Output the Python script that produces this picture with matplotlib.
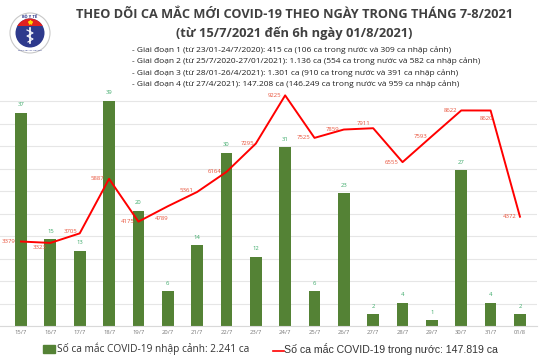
import matplotlib
matplotlib.use("Agg")
import matplotlib.pyplot as plt
from matplotlib.patches import Circle, Rectangle, Polygon
import numpy as np

dates = ["15/7", "16/7", "17/7", "18/7", "19/7", "20/7", "21/7", "22/7", "23/7",
         "24/7", "25/7", "26/7", "27/7", "28/7", "29/7", "30/7", "31/7", "01/8"]
imported = [37, 15, 13, 39, 20, 6, 14, 30, 12, 31, 6, 23, 2, 4, 1, 27, 4, 2]
domestic = [3379, 3323, 3705, 5887, 4175, 4789, 5361, 6164, 7295, 9225, 7525,
            7859, 7911, 6555, 7593, 8622, 8620, 4372]

title = "THEO DÕI CA MẮC MỚI COVID-19 THEO NGÀY TRONG THÁNG 7-8/2021"
subtitle = "(từ 15/7/2021 đến 6h ngày 01/8/2021)"
notes = [
    "- Giai đoạn 1 (từ 23/01-24/7/2020): 415 ca (106 ca trong nước và 309 ca nhập cảnh)",
    "- Giai đoạn 2 (từ 25/7/2020-27/01/2021): 1.136 ca (554 ca trong nước và 582 ca nhập cảnh)",
    "- Giai đoạn 3 (từ 28/01-26/4/2021): 1.301 ca (910 ca trong nước và 391 ca nhập cảnh)",
    "- Giai đoạn 4 (từ 27/4/2021): 147.208 ca (146.249 ca trong nước và 959 ca nhập cảnh)",
]
legend_bar = "Số ca mắc COVID-19 nhập cảnh: 2.241 ca"
legend_line = "Số ca mắc COVID-19 trong nước: 147.819 ca"

# label offsets (pixels, dx right, dy up) for line labels
line_off = [(-12, 0), (-11, -5), (-9, 2), (-12, 0), (-11, 0), (-6, -12), (-11, 1),
            (-12, 0), (-8, 0), (-11, 0), (-11, 0), (-11, 0), (-10, 5), (-11, 0),
            (-11, 0), (-11, 0), (-4, -8), (-10, 0)]

W, H = 540, 360
fig = plt.figure(figsize=(5.4, 3.6), dpi=100)
fig.patch.set_facecolor("white")

BAR_C = "#548235"
LINE_C = "#ff0000"
BAR_LBL = "#3daa6a"
LINE_LBL = "#e8523a"

x = np.arange(len(dates))
pos = [0.0, 1 - 326 / H, 537 / W, (326 - 88) / H]

# grid axis (domestic scale) behind
ax2 = fig.add_axes(pos, zorder=1)
ax2.set_xlim((0 - 21) / 29.35, (537 - 21) / 29.35)
ax2.set_ylim(0, 9520)
ax2.set_yticks(np.arange(0, 9001, 900))
ax2.yaxis.grid(True, color="#e6e6e6", lw=0.8)
ax2.tick_params(axis="both", length=0, labelleft=False, labelbottom=False)
for s in ["top", "right", "left", "bottom"]:
    ax2.spines[s].set_visible(False)

# bar axis
ax = fig.add_axes(pos, zorder=2)
ax.patch.set_visible(False)
ax.set_xlim((0 - 21) / 29.35, (537 - 21) / 29.35)
ax.set_ylim(0, 41.25)
ax.bar(x, imported, width=0.40, color=BAR_C, zorder=2)
for xi, v in zip(x, imported):
    ax.annotate(str(v), (xi, v), xytext=(0, 4), textcoords="offset points",
                ha="center", va="bottom", fontsize=4.2, color=BAR_LBL,
                family="Open Sans")
ax.set_xticks(x)
ax.set_xticklabels(dates, fontsize=4.2, color="#777777", family="Open Sans")
ax.tick_params(axis="x", length=0, pad=3)
ax.set_yticks([])
for s in ["top", "right", "left"]:
    ax.spines[s].set_visible(False)
ax.spines["bottom"].set_color("#d9d9d9")
ax.spines["bottom"].set_linewidth(0.8)

# line axis on top
ax3 = fig.add_axes(pos, zorder=3)
ax3.patch.set_visible(False)
ax3.set_xlim((0 - 21) / 29.35, (537 - 21) / 29.35)
ax3.set_ylim(0, 9520)
ax3.axis("off")
ax3.plot(x, domestic, color=LINE_C, lw=1.4, clip_on=False)
for xi, v, (dx, dy) in zip(x, domestic, line_off):
    ax3.annotate(str(v), (xi, v), xytext=(dx * 0.72, dy * 0.72),
                 textcoords="offset points", ha="center", va="center",
                 fontsize=4.3, color=LINE_LBL, family="Open Sans")

# overlay for texts and logo
ov = fig.add_axes([0, 0, 1, 1], zorder=5)
ov.set_xlim(0, W)
ov.set_ylim(H, 0)
ov.axis("off")

ov.text(294.5, 15, title, ha="center", va="center", fontsize=9.2,
        fontweight="bold", color="#404040", family="Open Sans")
ov.text(294, 33, subtitle, ha="center", va="center", fontsize=9.3,
        fontweight="bold", color="#404040", family="Open Sans")
for i, t in enumerate(notes):
    ov.text(132, 50 + i * 11.4, t, ha="left", va="center", fontsize=6.05,
            color="#222222", family="Open Sans")

# legend
ov.add_patch(Rectangle((43, 345), 12, 8, color=BAR_C))
ov.text(57, 349, legend_bar, ha="left", va="center", fontsize=7.3,
        color="#333333", family="Open Sans")
ov.plot([273, 284], [351, 351], color=LINE_C, lw=1.2)
ov.text(284, 349, legend_line, ha="left", va="center", fontsize=7.6,
        color="#333333", family="Liberation Sans")

# logo
cx, cy = 30, 33
ov.add_patch(Circle((cx, cy), 20, facecolor="white", edgecolor="#c8c8c8", lw=0.8))
inner = Circle((cx, cy), 14.5, facecolor="#2e3a8c", edgecolor="none")
ov.add_patch(inner)
red = Polygon([(cx - 16, cy - 16), (cx + 16, cy - 16), (cx + 16, cy - 7), (cx - 16, cy - 7)],
              closed=True, facecolor="#e02020", edgecolor="none")
ov.add_patch(red)
red.set_clip_path(inner)
ov.plot([cx], [cy - 11], marker="*", color="#ffd700", ms=3)
ov.plot([cx, cx], [cy - 5, cy + 10], color="white", lw=1.2)
ov.plot([cx - 3, cx + 3, cx - 3, cx + 3, cx - 2], [cy - 3, cy, cy + 3, cy + 6, cy + 9],
        color="white", lw=0.8)
ov.text(cx, cy - 17, "BỘ Y TẾ", ha="center", va="center", fontsize=2.5,
        color="#2e3a8c", fontweight="bold")
ov.text(cx, cy + 17.5, "MINISTRY OF HEALTH", ha="center", va="center", fontsize=1.6,
        color="#2e3a8c")

fig.savefig("out.png", dpi=100, facecolor="white")
